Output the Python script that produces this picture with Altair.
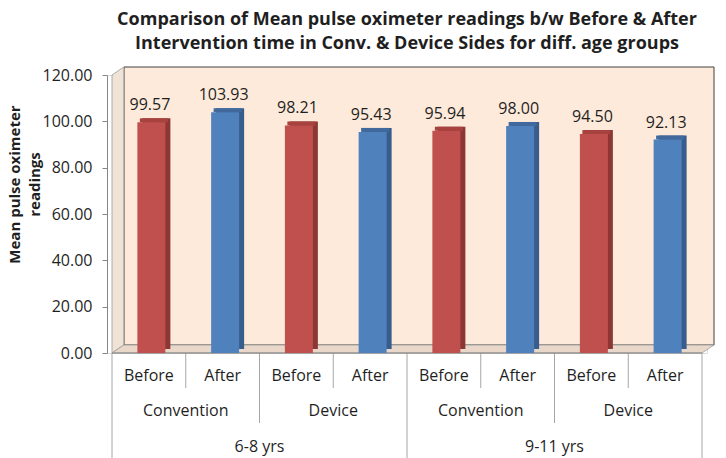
import altair as alt
import pandas as pd

# ---- data ----
ages = ["6-8 yrs", "6-8 yrs", "6-8 yrs", "6-8 yrs", "9-11 yrs", "9-11 yrs", "9-11 yrs", "9-11 yrs"]
sides = ["Convention", "Convention", "Device", "Device", "Convention", "Convention", "Device", "Device"]
times = ["Before", "After", "Before", "After", "Before", "After", "Before", "After"]
values = [99.57, 103.93, 98.21, 95.43, 95.94, 98.00, 94.50, 92.13]
y_ticks = [0, 20, 40, 60, 80, 100, 120]

df = pd.DataFrame({"age": ages, "side": sides, "time": times, "value": values})
df["pos"] = df.index + 0.5
df["label"] = df["value"].map(lambda v: f"{v:.2f}")

# category boundaries and their level in the multi-level axis
b_pos, b_lvl = [], []
for i in range(len(df)):
    if i == 0 or ages[i] != ages[i - 1]:
        lvl = 3
    elif sides[i] != sides[i - 1]:
        lvl = 2
    else:
        lvl = 1
    b_pos.append(i)
    b_lvl.append(lvl)
b_pos.append(len(df))
b_lvl.append(3)
bounds = pd.DataFrame({"b": b_pos, "level": b_lvl})

# ---- layout / style ----
W, H = 600, 278
N = len(df)
YMAX = 120
DX, DY = 12, 8                      # 3-D depth of the walls in px
dxu = DX / (W / N)
dyu = DY / (H / YMAX)
FONT = "Open Sans"
TXT = "#1f1f1f"
GRAYLINE = "#a6a6a6"

xs = alt.Scale(domain=[0, N], nice=False, zero=False)
ys = alt.Scale(domain=[0, YMAX], nice=False)

yaxis = alt.Axis(
    values=y_ticks, format=".2f", grid=False, domainColor="#868686", tickColor="#868686",
    tickSize=5, labelFont=FONT, labelFontSize=16, labelColor=TXT, labelPadding=10,
    title=["Mean pulse oximeter", "readings"], titleFont=FONT, titleFontSize=15,
    titleFontWeight="bold", titleColor=TXT, titleX=-85, titleY=109, titleLineHeight=20,
    titleBaseline="bottom", titleAnchor="middle", titleAlign="center", zindex=1,
)


def X(field):
    return alt.X(field, scale=xs, axis=None)


def Y(field):
    return alt.Y(field, scale=ys, axis=yaxis)


frame_df = pd.DataFrame({"x0": [0], "x1": [N], "y0": [0], "y1": [YMAX]})

back_wall = alt.Chart(frame_df).mark_rect(
    fill="#FDEADA", stroke="#404040", strokeWidth=1,
    xOffset=DX, x2Offset=DX, yOffset=-DY, y2Offset=-DY
).encode(x=X("x0:Q"), x2="x1:Q", y=Y("y0:Q"), y2="y1:Q")

left_wall_df = pd.DataFrame({"x": [0, dxu], "y": [0, dyu], "y2": [YMAX, YMAX + dyu]})
left_wall = alt.Chart(left_wall_df).mark_area(
    fill="#EFE2D6", stroke="#9a9a9a", strokeWidth=0.8
).encode(x=X("x:Q"), y=Y("y:Q"), y2="y2:Q")

floor_df = pd.DataFrame({"x": [0, dxu, N, N + dxu], "y": [0, dyu, dyu, dyu], "y2": [0, 0, 0, dyu]})
floor = alt.Chart(floor_df).mark_area(
    fill="#E9D8C9", stroke="#9a9a9a", strokeWidth=0.8
).encode(x=X("x:Q"), y=Y("y:Q"), y2="y2:Q")

base = alt.Chart(df)
is_before = alt.datum.time == "Before"

side_face = base.mark_bar(width=28, xOffset=7.5, yOffset=-4).encode(
    x=X("pos:Q"), y=Y("value:Q"),
    color=alt.condition(is_before, alt.value("#8C3734"), alt.value("#375D8C")),
)
top_face = base.mark_tick(orient="horizontal", size=28, thickness=4, xOffset=5, yOffset=-2, opacity=1).encode(
    x=X("pos:Q"), y=Y("value:Q"),
    color=alt.condition(is_before, alt.value("#A8423F"), alt.value("#41699C")),
)
front_face = base.mark_bar(width=28, xOffset=2.5).encode(
    x=X("pos:Q"), y=Y("value:Q"),
    color=alt.condition(is_before, alt.value("#C0504D"), alt.value("#4F81BD")),
)
value_labels = base.mark_text(
    font=FONT, fontSize=16, color=TXT, dx=1, dy=-12, baseline="alphabetic"
).encode(x=X("pos:Q"), y=Y("value:Q"), text="label:N")

# ---- multi-level category axis ----
x_line = alt.Chart(frame_df).mark_rule(color="#868686", strokeWidth=1).encode(
    x=X("x0:Q"), x2="x1:Q", y=alt.value(H)
)
sep_len = {1: 35, 2: 70, 3: 112}
seps = [
    alt.Chart(bounds).transform_filter(alt.datum.level == k).mark_rule(color=GRAYLINE, strokeWidth=1).encode(
        x=X("b:Q"), y=alt.value(H), y2=alt.value(H + L)
    )
    for k, L in sep_len.items()
]
row1 = base.mark_text(font=FONT, fontSize=16, color=TXT, baseline="middle").encode(
    x=X("pos:Q"), y=alt.value(H + 23), text="time:N"
)
row2 = base.transform_aggregate(pos="mean(pos)", groupby=["age", "side"]).mark_text(
    font=FONT, fontSize=16, color=TXT, baseline="middle"
).encode(x=X("pos:Q"), y=alt.value(H + 58), text="side:N")
row3 = base.transform_aggregate(pos="mean(pos)", groupby=["age"]).mark_text(
    font=FONT, fontSize=16, color=TXT, baseline="middle"
).encode(x=X("pos:Q"), y=alt.value(H + 94), text="age:N")

chart = alt.layer(
    back_wall, left_wall, floor, *seps, x_line,
    side_face, top_face, front_face, value_labels, row1, row2, row3,
).properties(
    width=W, height=H,
    autosize=alt.AutoSizeParams(type="none"),
    padding={"left": 99, "top": 67, "right": 11, "bottom": 105},
    title=alt.TitleParams(
        text=["Comparison of Mean pulse oximeter readings b/w Before & After",
              "Intervention time in Conv. & Device Sides for diff. age groups"],
        font=FONT, fontSize=18, fontWeight="bold", color=TXT, anchor="middle",
        baseline="bottom", offset=14, dy=20, lineHeight=24,
    ),
).configure_view(stroke=None).configure(background="white")

chart.save("out.html", embed_options={"renderer": "svg", "actions": False})
